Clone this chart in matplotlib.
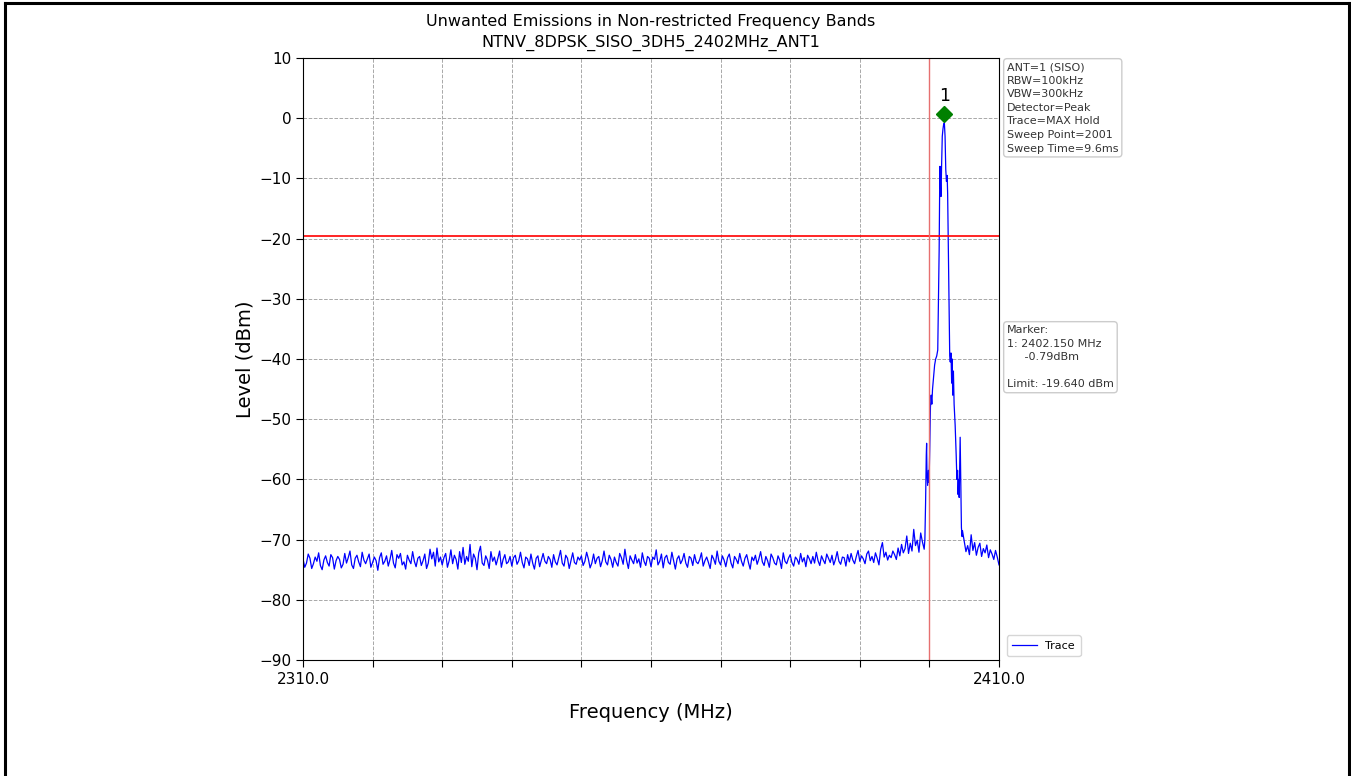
import numpy as np
import matplotlib
matplotlib.use("Agg")
import matplotlib.pyplot as plt
from matplotlib.lines import Line2D
from matplotlib.transforms import offset_copy

# ---------------- data ----------------
title_text = "Unwanted Emissions in Non-restricted Frequency Bands\nNTNV_8DPSK_SISO_3DH5_2402MHz_ANT1"
x_label = "Frequency (MHz)"
y_label = "Level (dBm)"
x_min, x_max = 2310.0, 2410.0
y_min, y_max = -90, 10
x_tick_values = [2310, 2320, 2330, 2340, 2350, 2360, 2370, 2380, 2390, 2400, 2410]
x_tick_labels = ["2310.0", "", "", "", "", "", "", "", "", "", "2410.0"]
y_tick_values = [-90, -80, -70, -60, -50, -40, -30, -20, -10, 0, 10]

limit_level = -19.64
band_edge = 2400.0
marker_freq = 2402.15
marker_level = -0.79

info_text = ("ANT=1 (SISO)\nRBW=100kHz\nVBW=300kHz\nDetector=Peak\n"
             "Trace=MAX Hold\nSweep Point=2001\nSweep Time=9.6ms")
marker_text = "Marker:\n1: 2402.150 MHz\n     -0.79dBm\n\nLimit: -19.640 dBm"

# noise floor, 2310.00 .. 2399.25 MHz every 0.25 MHz
floor_start, floor_step = 2310.0, 0.25
floor_levels = [
    -73.2,-74.6,-73.9,-72.4,-73.1,-74.8,-74.0,-72.9,-73.6,-72.2,-74.3,-75.0,-73.4,-72.7,-73.8,-74.4,-72.5,-73.0,-74.9,-73.5,
    -72.8,-73.3,-74.7,-74.1,-72.3,-73.9,-73.0,-71.9,-74.2,-74.8,-73.1,-72.6,-73.7,-74.5,-72.1,-73.4,-74.0,-73.2,-72.4,-74.6,
    -73.8,-72.9,-73.5,-75.1,-73.0,-72.2,-74.1,-73.6,-72.7,-74.4,-73.3,-71.8,-73.9,-74.7,-72.5,-73.1,-72.3,-74.2,-73.7,-74.9,
    -72.6,-73.4,-74.0,-72.0,-73.6,-74.5,-73.1,-72.8,-74.3,-73.5,-72.4,-74.8,-73.9,-71.6,-73.2,-72.1,-74.4,-71.4,-73.7,-72.9,
    -74.2,-73.0,-72.3,-74.6,-73.5,-71.7,-74.0,-72.6,-73.3,-74.9,-72.0,-73.8,-71.3,-74.1,-72.8,-73.6,-70.8,-74.5,-72.4,-73.1,
    -75.0,-72.2,-71.1,-73.9,-74.3,-72.7,-73.4,-74.8,-72.0,-73.6,-72.9,-74.2,-73.1,-71.9,-74.6,-73.3,-72.5,-74.0,-73.7,-72.8,
    -74.4,-73.0,-72.6,-74.1,-73.5,-72.1,-73.8,-74.7,-72.9,-73.2,-74.3,-72.4,-73.9,-74.9,-73.1,-72.7,-74.5,-73.4,-72.3,-73.6,
    -74.0,-72.8,-73.3,-74.6,-72.5,-73.7,-74.2,-73.0,-71.8,-73.9,-74.4,-72.6,-73.1,-74.8,-73.5,-72.2,-73.8,-74.1,-72.9,-73.4,
    -72.7,-74.3,-73.6,-72.1,-73.2,-74.7,-73.9,-72.4,-74.0,-73.1,-72.8,-74.5,-73.5,-71.9,-73.7,-74.2,-72.6,-73.3,-74.6,-72.9,
    -73.8,-74.4,-72.3,-73.0,-74.1,-71.6,-73.5,-74.8,-72.7,-73.4,-74.0,-72.5,-73.9,-73.2,-74.6,-72.2,-73.6,-74.3,-72.8,-73.1,
    -74.5,-72.9,-73.3,-71.7,-74.2,-73.6,-72.4,-74.7,-73.0,-72.6,-73.8,-74.1,-72.1,-73.5,-74.9,-73.2,-72.7,-74.0,-73.4,-72.3,
    -73.9,-74.6,-72.8,-73.1,-74.3,-72.5,-73.7,-74.0,-73.3,-72.2,-74.4,-73.5,-72.9,-73.8,-74.8,-72.6,-73.2,-74.1,-71.9,-73.6,
    -74.2,-72.7,-73.4,-74.5,-73.0,-72.4,-73.9,-74.7,-72.8,-73.3,-74.0,-72.3,-73.6,-74.4,-73.1,-72.5,-73.8,-74.9,-72.9,-73.5,
    -72.6,-74.1,-73.2,-72.0,-73.7,-74.3,-72.8,-73.5,-74.6,-72.4,-73.0,-73.9,-74.2,-72.7,-73.4,-74.8,-72.2,-73.6,-74.0,-73.1,
    -72.5,-73.8,-74.4,-72.9,-73.3,-74.1,-72.3,-73.7,-73.0,-74.5,-72.6,-73.2,-74.0,-72.8,-73.9,-72.1,-73.5,-74.3,-72.7,-73.4,
    -74.0,-72.4,-73.1,-73.8,-72.6,-74.2,-73.3,-72.0,-73.6,-74.1,-72.9,-73.0,-74.4,-72.5,-73.7,-72.3,-73.4,-74.0,-72.8,-71.8,
    -73.6,-72.7,-73.2,-74.0,-72.4,-71.9,-73.5,-72.8,-73.8,-72.2,-73.1,-74.2,-71.6,-70.5,-72.9,-72.1,-73.4,-72.6,-73.0,-71.9,
    -72.5,-73.3,-71.4,-72.7,-70.8,-72.2,-71.5,-69.4,-72.3,-70.6,-71.9,-68.3,-71.0,-70.1,-72.1,-68.9,-70.4,-71.6,
]

# emission around the carrier
peak_freqs = [2399.35, 2399.45, 2399.55, 2399.60, 2399.65, 2399.75, 2399.85, 2399.95,
              2400.05, 2400.15, 2400.25, 2400.35, 2400.45, 2400.60, 2400.75, 2400.90,
              2401.05, 2401.20, 2401.30, 2401.40, 2401.48, 2401.52, 2401.60, 2401.67,
              2401.75, 2401.85, 2401.95, 2402.05, 2402.15, 2402.25, 2402.35, 2402.45,
              2402.55, 2402.62, 2402.70, 2402.80, 2402.92, 2403.00, 2403.10, 2403.20,
              2403.28, 2403.35, 2403.45, 2403.55, 2403.70, 2403.85, 2403.95, 2404.05,
              2404.12, 2404.20, 2404.28, 2404.35, 2404.42, 2404.50, 2404.60, 2404.70]
peak_levels = [-70.0, -64.0, -56.0, -54.0, -59.0, -61.0, -58.5, -60.5,
               -55.0, -48.0, -46.0, -47.5, -45.0, -43.0, -41.0, -40.0,
               -39.5, -38.5, -30.0, -22.0, -11.0, -8.0, -11.5, -13.0,
               -8.0, -3.0, -1.8, -1.0, -0.79, -3.0, -8.5, -10.5,
               -9.5, -12.5, -20.0, -30.0, -39.5, -40.5, -39.0, -44.0,
               -40.0, -46.0, -42.0, -47.5, -51.0, -56.0, -60.0, -58.5,
               -62.5, -60.0, -63.0, -58.0, -53.0, -60.0, -68.0, -69.5]

# floor above the carrier, 2404.75 .. 2410.00 MHz every 0.25 MHz
upper_start, upper_step = 2404.75, 0.25
upper_levels = [-68.5, -70.2, -72.0, -71.0, -72.5, -69.2, -71.8, -70.5, -72.6, -71.3, -70.6,
                -72.8, -71.5, -72.2, -70.9, -73.0, -71.7, -72.4, -73.3, -71.8, -72.9, -74.2]

# ---------------- build trace ----------------
floor_freqs = floor_start + floor_step * np.arange(len(floor_levels))
upper_freqs = upper_start + upper_step * np.arange(len(upper_levels))
freqs = np.concatenate([floor_freqs, peak_freqs, upper_freqs])
levels = np.concatenate([floor_levels, peak_levels, upper_levels])

# ---------------- figure ----------------
plt.rcParams['font.family'] = ['DejaVu Sans']
fig = plt.figure(figsize=(13.51, 7.76), dpi=100)
ax = fig.add_axes([303/1351, 1-660/776, (999-303)/1351, (660-58)/776])

trace_line, = ax.plot(freqs, levels, color='blue', lw=0.9, label='Trace')
ax.axhline(limit_level, color='red', lw=1.2)
ax.axvline(band_edge, color='#e67070', lw=1.0)
mk_trans = offset_copy(ax.transData, fig=fig, x=0, y=9, units='dots')
ax.plot([marker_freq], [marker_level], marker='D', color='green', markersize=8,
        ls='none', transform=mk_trans)
ax.annotate("1", (marker_freq, marker_level), xytext=(0, 13), textcoords='offset points',
            ha='center', va='bottom', fontsize=12.5)

ax.set_xlim(x_min, x_max)
ax.set_ylim(y_min, y_max)
ax.set_xticks(x_tick_values)
ax.set_xticklabels(x_tick_labels)
ax.set_yticks(y_tick_values)
ax.tick_params(labelsize=11, length=5)
ax.grid(True, ls='--', color='#a8a8a8', lw=0.7)
ax.set_axisbelow(True)

ax.set_xlabel(x_label, fontsize=14, labelpad=12)
ax.set_ylabel(y_label, fontsize=14, labelpad=3)
ax.set_title(title_text, fontsize=11.5, pad=8, linespacing=1.45)

box = dict(boxstyle='round,pad=0.3', fc='white', ec='#cccccc', lw=1)
fig.text(1007/1351, 1-62/776, info_text, fontsize=8, va='top', ha='left',
         linespacing=1.45, bbox=box, color='#333333')
fig.text(1007/1351, 1-325/776, marker_text, fontsize=8, va='top', ha='left',
         linespacing=1.45, bbox=box, color='#333333')

fig.legend(handles=[trace_line], loc='lower left',
           bbox_to_anchor=(1001/1351, 1-662/776), fontsize=8, frameon=True,
           handlelength=2.2, borderpad=0.5, fancybox=True, edgecolor='#cccccc')

# outer frame of the image
for xs, ys in [([5/1351, 5/1351], [0, 1-3/776]),
               ([5/1351, 1349/1351], [1-3/776, 1-3/776]),
               ([1349/1351, 1349/1351], [1-3/776, 0])]:
    fig.add_artist(Line2D(xs, ys, color='black', lw=2.2, transform=fig.transFigure))

fig.savefig("out.png", dpi=100)
